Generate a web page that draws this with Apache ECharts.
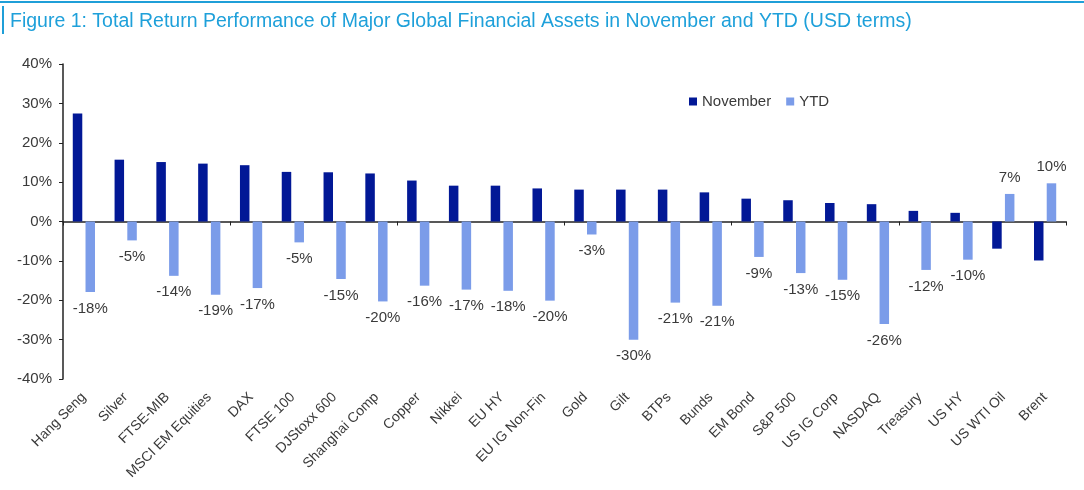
<!DOCTYPE html>
<html><head><meta charset="utf-8">
<script src="https://cdn.jsdelivr.net/npm/echarts@6/dist/echarts.min.js"></script>
<style>html,body{margin:0;padding:0;background:#fff}#c{width:1084px;height:490px}</style>
</head><body><div id="c"></div>
<script>
const categories = ['Hang Seng','Silver','FTSE-MIB','MSCI EM Equities','DAX','FTSE 100','DJStoxx 600','Shanghai Comp','Copper','Nikkei','EU HY','EU IG Non-Fin','Gold','Gilt','BTPs','Bunds','EM Bond','S&P 500','US IG Corp','NASDAQ','Treasury','US HY','US WTI Oil','Brent'];
const november = [27.4,15.7,15.1,14.7,14.3,12.6,12.5,12.2,10.4,9.1,9.1,8.4,8.1,8.1,8.1,7.4,5.8,5.4,4.7,4.4,2.7,2.2,-6.9,-9.9];
const ytd = [-17.9,-4.8,-13.8,-18.6,-16.9,-5.3,-14.6,-20.3,-16.3,-17.3,-17.6,-20.1,-3.3,-30.0,-20.6,-21.4,-9.0,-13.1,-14.8,-26.0,-12.3,-9.7,7.0,9.7];
const yTicks = {min:-40, max:40, interval:10};

const chart = echarts.init(document.getElementById('c'), null, {renderer:'canvas'});
const axisColor = '#222';
const textColor = '#3a3a3a';
const ff = '"Liberation Sans", Arial, sans-serif';
chart.setOption({
  animation:false,
  graphic:[
    {type:'rect', shape:{x:0,y:1,width:1084,height:2}, style:{fill:'#1f9fd8'}},
    {type:'rect', shape:{x:2,y:6,width:2,height:28}, style:{fill:'#1f9fd8'}},
    {type:'text', x:10, y:11, scaleX:0.975, style:{text:'Figure 1: Total Return Performance of Major Global Financial Assets in November and YTD (USD terms)', font:'20px ' + ff, fill:'#1ea0da'}}
  ],
  legend:{
    data:['November','YTD'], left:684, top:89, itemWidth:8, itemHeight:8, itemGap:15,
    icon:'rect', textStyle:{fontSize:15, color:textColor, fontFamily:ff}
  },
  grid:{left:63, right:18, top:64, bottom:111, containLabel:false},
  xAxis:[
    {type:'category', data:categories, axisLine:{onZero:true, lineStyle:{color:axisColor, width:1.5}},
     axisTick:{show:true, length:4, lineStyle:{color:axisColor}}, axisLabel:{show:false}, splitLine:{show:false}},
    {type:'category', data:categories, position:'bottom', axisLine:{show:false, onZero:false}, axisTick:{show:false},
     axisLabel:{interval:0, rotate:45, margin:16, fontSize:14, color:textColor, fontFamily:ff}}
  ],
  yAxis:{type:'value', min:yTicks.min, max:yTicks.max, interval:yTicks.interval,
    axisLine:{show:true, lineStyle:{color:axisColor, width:1.5}}, axisTick:{show:true, length:4, lineStyle:{color:axisColor}},
    splitLine:{show:false},
    axisLabel:{formatter:'{value}%', fontSize:15, color:textColor, margin:11, fontFamily:ff}},
  series:[
    {name:'November', type:'bar', xAxisIndex:0, data:november, barWidth:9.5, barGap:'34%', itemStyle:{color:'#021896'}},
    {name:'YTD', type:'bar', xAxisIndex:0, barWidth:9.5,
     data: ytd.map(v => ({value:v, label:{position: v<0 ? 'bottom':'top'}})),
     itemStyle:{color:'#7b9ce9'},
     label:{show:true, distance:9, fontSize:15, color:textColor, fontFamily:ff,
       formatter: p => Math.round(p.value) + '%'}}
  ]
});
</script></body></html>
